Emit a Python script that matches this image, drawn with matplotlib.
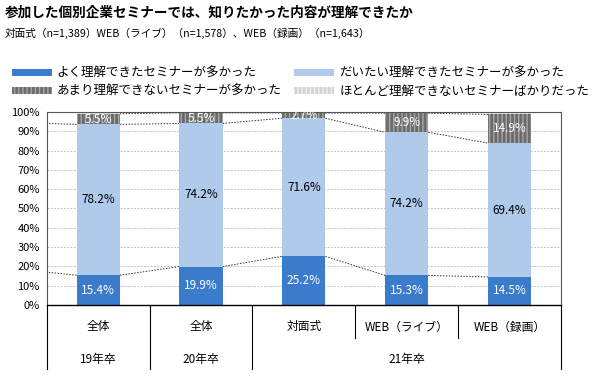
import numpy as np
import matplotlib
matplotlib.use("Agg")
import matplotlib.pyplot as plt

plt.rcParams['font.family'] = ['Noto Sans CJK JP', 'DejaVu Sans']
plt.rcParams['hatch.linewidth'] = 1.0

# ---------------------------------------------------------------- data
categories = ['全体', '全体', '対面式', 'WEB（ライブ）', 'WEB（録画）']
groups = ['19年卒', '20年卒', '21年卒']
group_span = [(0, 0), (1, 1), (2, 4)]
series = ['よく理解できたセミナーが多かった', 'だいたい理解できたセミナーが多かった',
          'あまり理解できないセミナーが多かった', 'ほとんど理解できないセミナーばかりだった']
well = [15.4, 19.9, 25.2, 15.3, 14.5]
mostly = [78.2, 74.2, 71.6, 74.2, 69.4]
little = [5.5, 5.5, 2.7, 9.9, 14.9]
hardly = [0.9, 0.4, 0.5, 0.6, 1.2]
# series lines coming in from the (cropped) previous bar
prev_well, prev_upper = 18.6, 94.6

title = '参加した個別企業セミナーでは、知りたかった内容が理解できたか'
subtitle = '対面式（n=1,389）WEB（ライブ）（n=1,578）、WEB（録画）（n=1,643）'

# ---------------------------------------------------------------- figure
fig = plt.figure(figsize=(6.0, 3.76), dpi=100)
ax = fig.add_axes([0.078, 0.189, 0.857, 0.513])

x = np.arange(len(categories))
bw = 0.42
c_well, c_mostly = '#3b7bcb', '#afcaea'
c_little, c_hardly = '#6b6b6b', '#d4d4d4'

b1 = ax.bar(x, well, bw, color=c_well, zorder=2)
b2 = ax.bar(x, mostly, bw, bottom=well, color=c_mostly, zorder=2)
bot3 = np.array(well) + np.array(mostly)
b3 = ax.bar(x, little, bw, bottom=bot3, color=c_little, edgecolor='#a8a8a8',
            hatch='||||', linewidth=0, zorder=2)
bot4 = bot3 + np.array(little)
b4 = ax.bar(x, hardly, bw, bottom=bot4, color=c_hardly, edgecolor='#f0f0f0',
            hatch='||||', linewidth=0, zorder=2)

# series lines
for tops, prev in [(np.array(well), prev_well), (bot3, prev_upper), (bot4, None), (bot4 + np.array(hardly), None)]:
    if prev is not None:
        ax.plot([-1 + bw / 2, -bw / 2], [prev, tops[0]], color='#333333', lw=0.7,
                ls=(0, (1.5, 1.5)), zorder=1)
    for i in range(len(x) - 1):
        ax.plot([x[i] + bw / 2, x[i + 1] - bw / 2], [tops[i], tops[i + 1]],
                color='#333333', lw=0.7, ls=(0, (1.5, 1.5)), zorder=1)

# labels
for i in range(len(x)):
    ax.text(x[i], well[i] / 2, f'{well[i]:.1f}%', ha='center', va='center',
            color='white', fontsize=8.5, zorder=3)
    ax.text(x[i], well[i] + mostly[i] / 2, f'{mostly[i]:.1f}%', ha='center',
            va='center', color='black', fontsize=8.5, zorder=3)
    ax.text(x[i], bot3[i] + little[i] / 2, f'{little[i]:.1f}%', ha='center',
            va='center', color='white', fontsize=8.5, zorder=3)

ax.set_xlim(-0.5, len(x) - 0.5)
ax.set_ylim(0, 100)
ax.set_yticks(np.arange(0, 101, 10))
ax.set_yticklabels([f'{v}%' for v in range(0, 101, 10)], fontsize=8)
ax.set_xticks([])
ax.tick_params(axis='y', length=0, pad=5)
ax.yaxis.grid(True, color='#b0b0b0', ls=(0, (2, 2)), lw=0.6)
ax.set_axisbelow(True)
for s in ['left', 'right', 'top']:
    ax.spines[s].set_color('#555555')
    ax.spines[s].set_linewidth(0.8)
ax.spines['bottom'].set_linewidth(1.0)

# category table below the axis
tr = ax.get_xaxis_transform()
for i, c in enumerate(categories):
    ax.text(x[i], -0.114, c, transform=tr, ha='center', va='center', fontsize=8.5)
for g, (a, b) in zip(groups, group_span):
    ax.text((x[a] + x[b]) / 2, -0.285, g, transform=tr, ha='center', va='center', fontsize=8.5)
for k in range(len(x) + 1):
    xe = k - 0.5
    long = k in (0, 1, 2, len(x))
    ax.plot([xe, xe], [0, -0.33 if long else -0.171], transform=tr, color='black',
            lw=0.8, clip_on=False)

# titles
fig.text(0.008, 0.966, title, fontsize=9.8, fontweight='bold', va='center')
fig.text(0.008, 0.912, subtitle, fontsize=7.7, va='center')

# legend
fig.legend([b1, b3, b2, b4], [series[0], series[2], series[1], series[3]],
           ncol=2, loc='upper left', bbox_to_anchor=(0.005, 0.845), frameon=False,
           fontsize=9, handlelength=3.2, handleheight=0.5, handletextpad=0.4,
           columnspacing=1.0, labelspacing=0.4, borderpad=0.2)

fig.savefig('out.png', dpi=100)
